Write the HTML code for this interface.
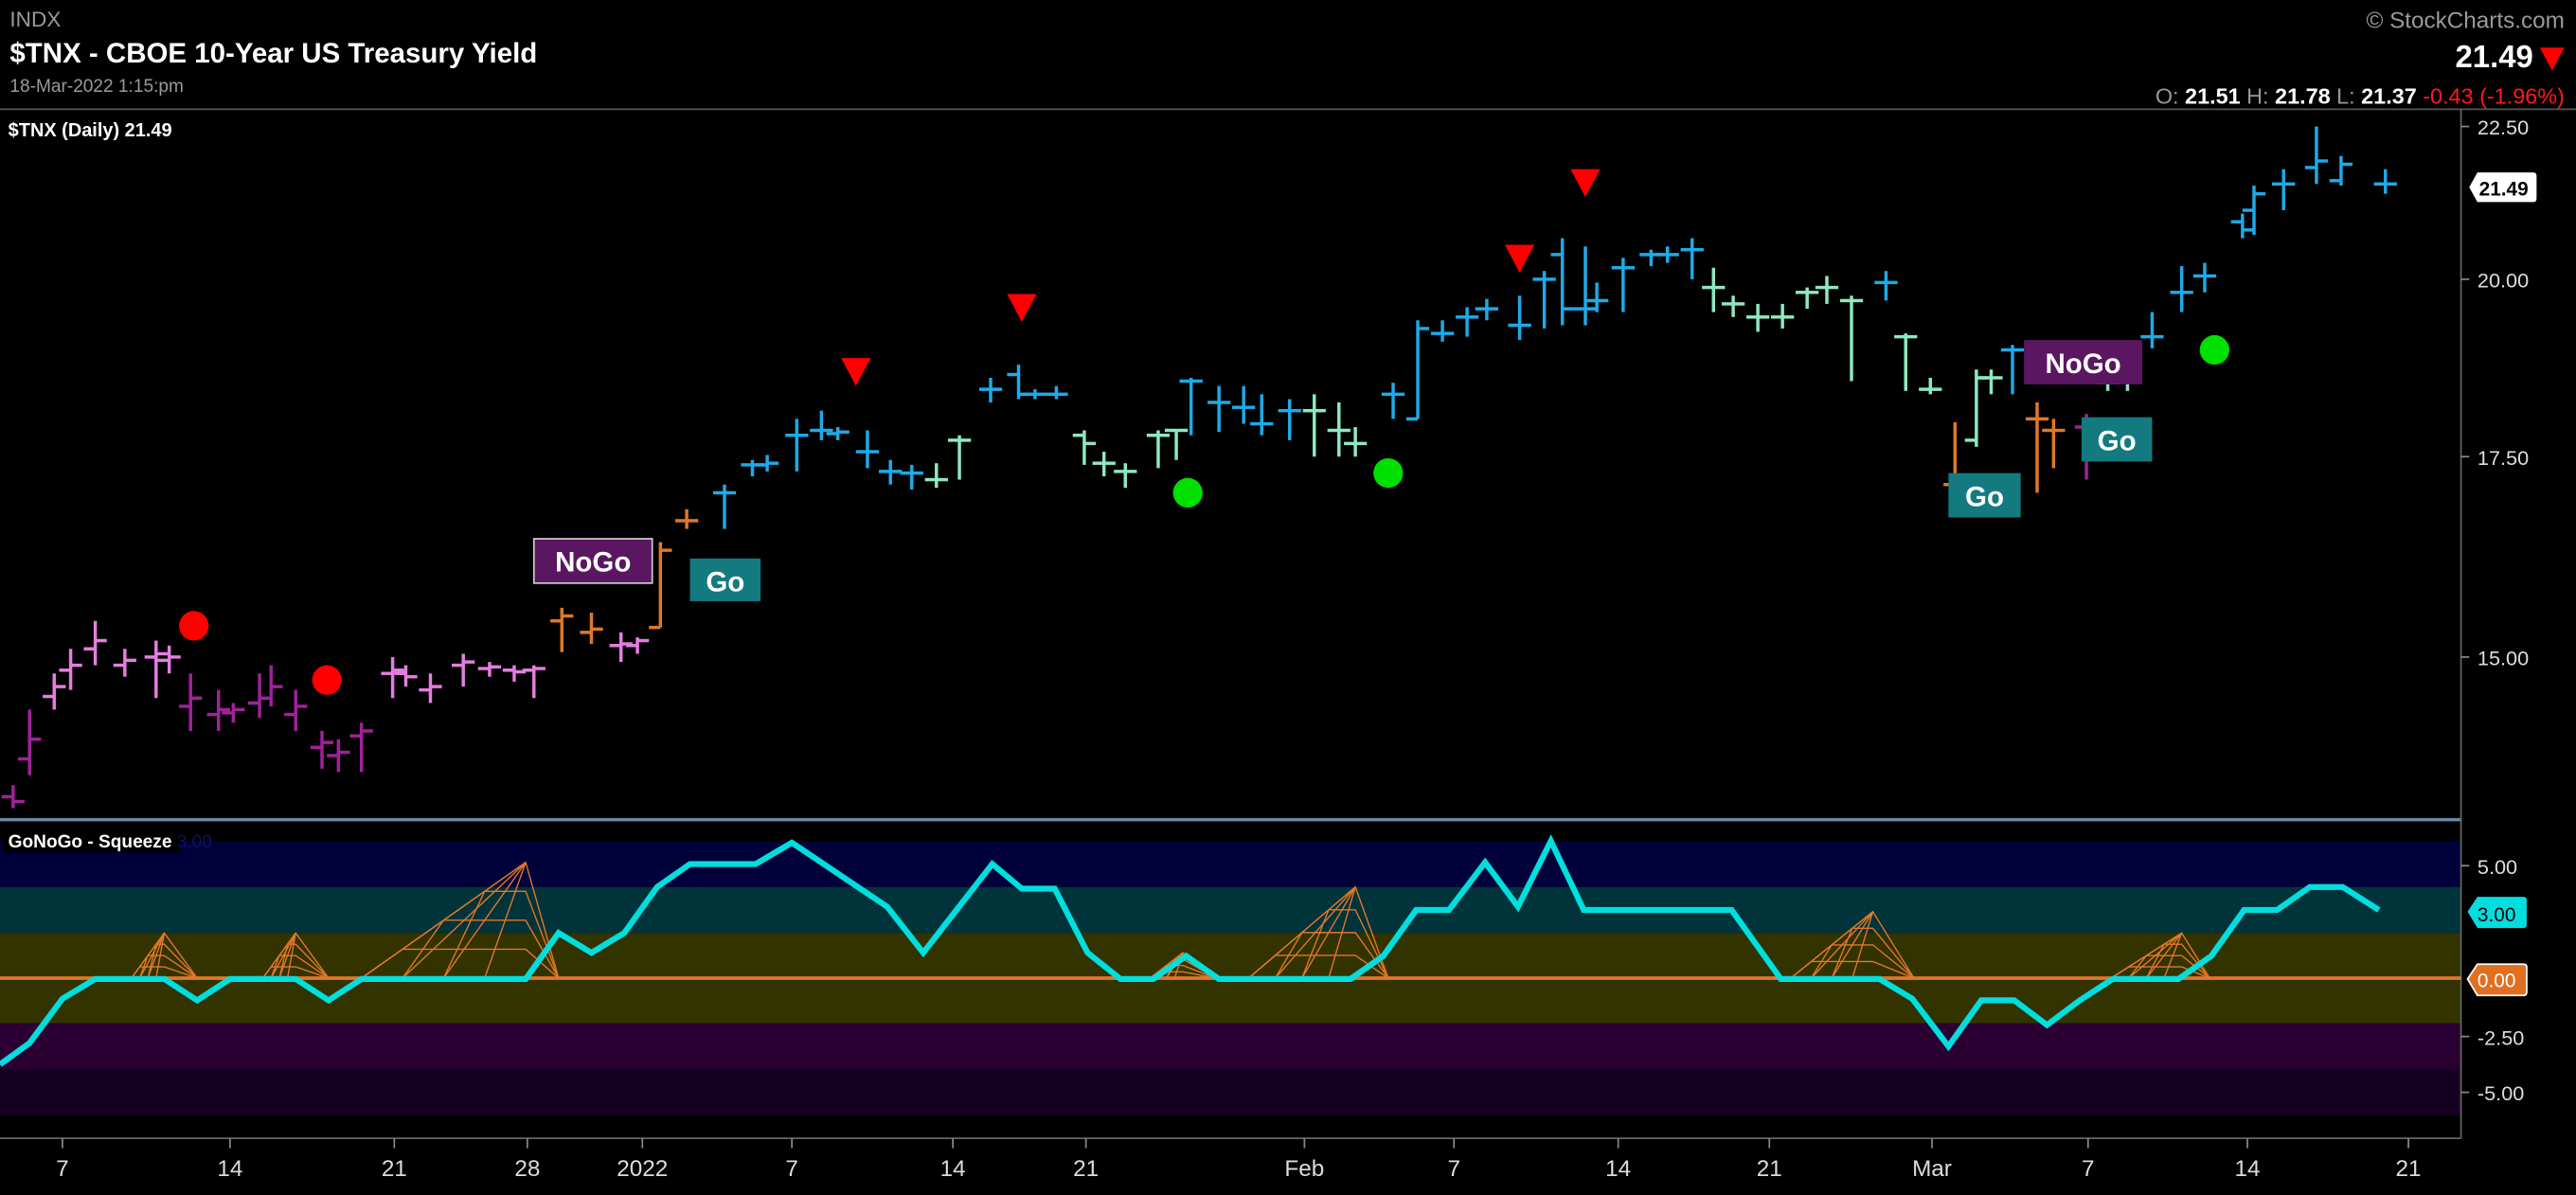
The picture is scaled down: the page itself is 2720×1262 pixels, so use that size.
<!DOCTYPE html>
<html><head><meta charset="utf-8"><style>
html,body{margin:0;padding:0;background:#000;}
svg{display:block;}
text{font-family:"Liberation Sans Narrow","Liberation Sans",sans-serif;}
</style></head><body>
<svg id="s" width="2720" height="1262" viewBox="0 0 1568 727.5" xmlns="http://www.w3.org/2000/svg">
<rect width="1568" height="727.5" fill="#000"/>
<text x="6" y="16" fill="#9a9a9a" font-size="13">INDX</text>
<text x="6" y="38" fill="#fff" font-size="17" font-weight="bold">$TNX - CBOE 10-Year US Treasury Yield</text>
<text x="6" y="56" fill="#9a9a9a" font-size="11">18-Mar-2022 1:15:pm</text>
<text x="1561" y="17" fill="#9a9a9a" font-size="14" text-anchor="end">© StockCharts.com</text>
<text x="1542" y="41" fill="#fff" font-size="19" font-weight="bold" text-anchor="end">21.49</text>
<polygon points="1546,29 1561,29 1553.5,43" fill="#ff0000"/>
<text x="1561" y="63" font-size="13.5" text-anchor="end"><tspan fill="#999">O:</tspan><tspan fill="#fff" font-weight="bold"> 21.51</tspan><tspan fill="#999">   H:</tspan><tspan fill="#fff" font-weight="bold"> 21.78</tspan><tspan fill="#999">   L:</tspan><tspan fill="#fff" font-weight="bold"> 21.37</tspan><tspan fill="#ff1a1a"> -0.43 (-1.96%)</tspan></text>
<line x1="0" y1="66.5" x2="1568" y2="66.5" stroke="#555" stroke-width="1"/>
<text x="5" y="83" fill="#fff" font-size="11.5" font-weight="bold">$TNX (Daily) 21.49</text>

<rect x="0" y="512" width="1498" height="28" fill="#00003a"/>
<rect x="0" y="540" width="1498" height="28" fill="#00333a"/>
<rect x="0" y="568" width="1498" height="55" fill="#333300"/>
<rect x="0" y="623" width="1498" height="28" fill="#2a0033"/>
<rect x="0" y="651" width="1498" height="28" fill="#160022"/>
<line x1="0" y1="499" x2="1498" y2="499" stroke="#6a88a8" stroke-width="2"/>

<line x1="1498" y1="66" x2="1498" y2="693" stroke="#666" stroke-width="1"/>
<line x1="0" y1="693" x2="1498" y2="693" stroke="#666" stroke-width="1"/>
<g fill="#ddd" font-size="12.5" font-family="Liberation Sans, sans-serif">
<text x="1508" y="82">22.50</text>
<text x="1508" y="175">20.00</text>
<text x="1508" y="283">17.50</text>
<text x="1508" y="405">15.00</text>
<text x="1508" y="532">5.00</text>
<text x="1508" y="636">-2.50</text>
<text x="1508" y="670">-5.00</text>
</g>
<g stroke="#888" stroke-width="1">
<line x1="1498" y1="77" x2="1503" y2="77"/><line x1="1498" y1="170" x2="1503" y2="170"/>
<line x1="1498" y1="278" x2="1503" y2="278"/><line x1="1498" y1="400" x2="1503" y2="400"/>
<line x1="1498" y1="527" x2="1503" y2="527"/><line x1="1498" y1="631" x2="1503" y2="631"/>
<line x1="1498" y1="665" x2="1503" y2="665"/>
</g>
<path d="M1503,114 L1508,105 L1542,105 Q1544,105 1544,107 L1544,121 Q1544,123 1542,123 L1508,123 Z" fill="#fff"/>
<text x="1509" y="119" font-size="12" font-weight="bold" fill="#000" font-family="Liberation Sans, sans-serif">21.49</text>
<path d="M1502,555 L1508,546 L1536,546 Q1538,546 1538,548 L1538,563 Q1538,565 1536,565 L1508,565 Z" fill="#00dede"/>
<text x="1508" y="561" font-size="12" fill="#000" font-family="Liberation Sans, sans-serif">3.00</text>
<path d="M1502,596 L1508,587 L1536,587 Q1538,587 1538,589 L1538,604 Q1538,606 1536,606 L1508,606 Z" fill="#e07020" stroke="#fff" stroke-width="1"/>
<text x="1508" y="601" font-size="12" fill="#fff" font-family="Liberation Sans, sans-serif">0.00</text>

<g fill="#ddd" font-size="14" text-anchor="middle" font-family="Liberation Sans, sans-serif">
<text x="38" y="716">7</text><text x="140" y="716">14</text><text x="240" y="716">21</text><text x="321" y="716">28</text>
<text x="391" y="716">2022</text><text x="482" y="716">7</text><text x="580" y="716">14</text><text x="661" y="716">21</text>
<text x="794" y="716">Feb</text><text x="885" y="716">7</text><text x="985" y="716">14</text><text x="1077" y="716">21</text>
<text x="1176" y="716">Mar</text><text x="1271" y="716">7</text><text x="1368" y="716">14</text><text x="1466" y="716">21</text>
</g>
<g id="ticks" stroke="#888" stroke-width="1"></g>

<g id="squeeze" fill="none" stroke="#e07828" stroke-width="0.8"></g>
<line x1="0" y1="595.5" x2="1498" y2="595.5" stroke="#e07828" stroke-width="2.2"/>
<polyline fill="none" stroke="#00dede" stroke-width="3.6" stroke-linejoin="miter" points="0,648 18,635 38,608 58,596 100,596 120,609 140,596 180,596 200,609 220,596 320,596 340,568 360,580 380,568 400,540 420,526 460,526 482,513 540,552 562,580 604,526 622,541 642,541 662,580 682,596 702,596 722,582 742,596 822,596 842,582 862,554 882,554 904,525 924,552 944,512 964,554 1054,554 1084,596 1144,596 1164,608 1186,637 1206,609 1226,609 1246,624 1266,609 1286,596 1326,596 1346,582 1366,554 1386,554 1406,540 1426,540 1448,554"/>
<rect x="2" y="505" width="108" height="14" fill="#000"/>
<text x="5" y="516" font-size="11" font-weight="bold" fill="#fff">GoNoGo - Squeeze <tspan fill="#10106a" font-weight="normal">3.00</tspan></text>

<g id="bars" stroke-width="2" fill="none"></g>

<circle cx="118" cy="381" r="9" fill="#ff0000"/>
<circle cx="199" cy="414" r="9" fill="#ff0000"/>
<circle cx="723" cy="300" r="9" fill="#00e000"/>
<circle cx="845" cy="288" r="9" fill="#00e000"/>
<circle cx="1348" cy="213" r="9" fill="#00e000"/>
<polygon points="512,218 530,218 521,235" fill="#ff0000"/>
<polygon points="613,179 631,179 622,196" fill="#ff0000"/>
<polygon points="916,149 934,149 925,166" fill="#ff0000"/>
<polygon points="956,103 974,103 965,120" fill="#ff0000"/>
<g font-size="17" font-weight="bold" fill="#fff" font-family="Liberation Sans, sans-serif">
<rect x="325" y="328" width="72" height="27" fill="#5a1660" stroke="#ccc" stroke-width="1"/><text x="361" y="348" text-anchor="middle">NoGo</text>
<rect x="420" y="340" width="43" height="26" fill="#137a80"/><text x="441.5" y="360" text-anchor="middle">Go</text>
<rect x="1186" y="288" width="44" height="27" fill="#137a80"/><text x="1208" y="308" text-anchor="middle">Go</text>
<rect x="1232" y="207" width="72" height="27" fill="#5a1660"/><text x="1268" y="227" text-anchor="middle">NoGo</text>
<rect x="1267" y="254" width="43" height="27" fill="#137a80"/><text x="1288.5" y="274" text-anchor="middle">Go</text>
</g>
</svg>
<script>
var NS="http://www.w3.org/2000/svg";
function el(p,t,a){var e=document.createElementNS(NS,t);for(var k in a)e.setAttribute(k,a[k]);p.appendChild(e);return e;}
var C={P:"#a0229a",K:"#e47ee0",O:"#e07828",B:"#1eaae8",G:"#8ee8c0"};
var bars=[
[8,478,492,485,488,"P"],[18,432,472,462,450,"P"],[33,410,432,424,418,"K"],[43,395,420,408,405,"K"],[58,378,405,395,390,"K"],
[76,395,412,405,402,"K"],[95,390,425,400,398,"K"],[103,393,410,402,400,"K"],[116,410,445,430,425,"P"],[133,420,445,435,432,"P"],
[142,428,440,434,432,"P"],[158,410,437,428,425,"P"],[165,405,430,425,418,"P"],[180,420,445,435,430,"P"],[196,445,468,455,452,"P"],
[206,450,470,460,458,"P"],[220,440,470,448,445,"P"],[239,400,425,410,408,"K"],[247,405,418,410,412,"K"],[262,410,428,420,418,"K"],
[282,398,418,405,403,"K"],[298,403,412,407,406,"K"],[313,405,415,408,409,"K"],[325,405,425,408,407,"K"],[342,370,397,378,375,"O"],
[360,373,392,385,383,"O"],[378,385,403,393,392,"K"],[388,388,398,393,390,"K"],[402,330,382,382,335,"O"],[418,310,322,317,317,"O"],
[441,295,322,300,300,"B"],[458,280,290,283,283,"B"],[467,277,287,283,282,"B"],[485,255,287,265,265,"B"],[500,250,268,262,262,"B"],
[510,260,268,264,263,"B"],[528,262,285,275,275,"B"],[542,280,295,287,287,"B"],[555,283,298,288,288,"B"],[570,282,297,292,292,"G"],
[584,265,292,268,268,"G"],[603,230,245,237,237,"B"],[620,222,243,228,240,"B"],[630,237,243,240,240,"B"],[643,235,243,240,240,"B"],
[660,262,283,265,270,"G"],[672,275,290,282,282,"G"],[685,282,297,287,287,"G"],[705,262,285,265,265,"G"],[716,262,280,262,262,"G"],
[725,230,265,232,232,"B"],[742,235,263,245,245,"B"],[757,235,258,248,248,"B"],[768,240,265,258,258,"B"],[785,243,268,250,250,"B"],
[800,240,278,250,250,"G"],[815,245,278,262,262,"G"],[825,260,278,270,270,"G"],[848,233,255,240,240,"B"],[863,195,255,255,200,"B"],
[878,195,208,203,203,"B"],[893,187,205,193,193,"B"],[905,182,195,188,188,"B"],[925,180,207,198,198,"B"],[940,165,200,170,170,"B"],
[951,145,198,155,188,"B"],[965,150,198,188,188,"B"],[972,172,190,183,183,"B"],[988,157,190,163,163,"B"],[1005,152,162,155,155,"B"],
[1015,150,160,155,155,"B"],[1030,145,170,152,152,"B"],[1043,163,190,175,175,"G"],[1055,180,193,185,185,"G"],[1070,185,202,193,193,"G"],
[1085,185,200,193,193,"G"],[1100,175,188,178,178,"G"],[1112,168,185,175,175,"G"],[1127,180,232,183,183,"G"],[1148,165,183,172,172,"B"],
[1160,203,238,205,205,"G"],[1175,230,240,237,237,"G"],[1190,257,312,295,295,"O"],[1203,225,272,268,230,"G"],[1212,225,240,230,230,"G"],
[1225,210,240,213,213,"B"],[1240,245,300,255,255,"O"],[1250,255,285,262,262,"O"],[1270,252,292,260,260,"P"],[1283,228,238,233,233,"G"],
[1295,215,238,225,225,"G"],[1310,190,212,205,205,"B"],[1328,162,190,178,178,"B"],[1342,160,178,168,168,"B"],[1365,130,145,135,140,"B"],
[1372,113,143,128,118,"B"],[1390,103,128,112,112,"B"],[1410,77,112,102,98,"B"],[1425,95,113,110,100,"B"],[1452,103,118,112,112,"B"]];
var g=document.getElementById("bars");
bars.forEach(function(b){var c=C[b[5]];
el(g,"line",{x1:b[0],y1:b[1],x2:b[0],y2:b[2],stroke:c});
el(g,"line",{x1:b[0]-7,y1:b[3],x2:b[0],y2:b[3],stroke:c});
el(g,"line",{x1:b[0],y1:b[4],x2:b[0]+7,y2:b[4],stroke:c});});
var t=document.getElementById("ticks");
[38,140,240,321,391,482,580,661,794,885,985,1077,1176,1271,1368,1466].forEach(function(x){el(t,"line",{x1:x,y1:693,x2:x,y2:699});});
var sq=document.getElementById("squeeze");
function cluster(x0,x1,px,py){var base=595.5,n=4;
for(var i=1;i<n;i++){var f=i/n;var y=base-(base-py)*f;var xl=x0+(px-x0)*f;var xr=px+(x1-px)*0.3;
el(sq,"polyline",{points:x0+(px-x0)*(f-0.25)+","+(base)+" "+xl+","+y+" "+px+","+y+" "+x1+","+base});}
for(var j=0;j<n;j++){var xs=x0+(px-x0)*j/n;el(sq,"line",{x1:xs,y1:base,x2:px,y2:py});}
el(sq,"polyline",{points:x0+","+base+" "+px+","+py+" "+x1+","+base});}
cluster(80,120,100,568);cluster(160,200,180,568);cluster(220,340,320,525);
cluster(700,740,720,580);cluster(760,845,825,540);cluster(1090,1165,1140,555);cluster(1285,1345,1328,568);
</script>
</body></html>
